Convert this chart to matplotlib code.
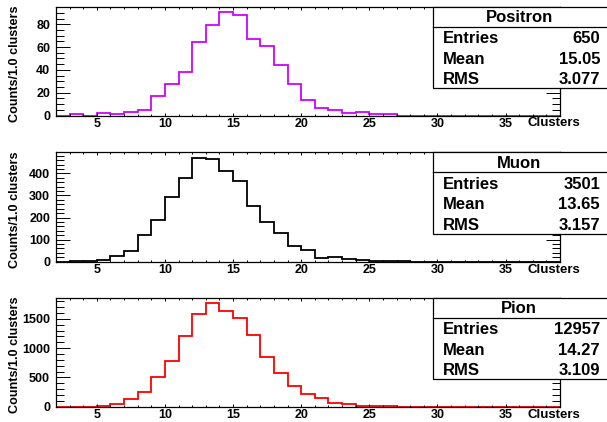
import numpy as np
import matplotlib
matplotlib.use("Agg")
import matplotlib.pyplot as plt
from matplotlib.patches import Rectangle
from matplotlib.lines import Line2D
from matplotlib.ticker import MultipleLocator

plt.rcParams['font.family'] = ['Liberation Sans', 'DejaVu Sans']
plt.rcParams['font.weight'] = 'bold'

# Cluster-count bins: [2,3), [3,4), ..., [38,39)
bin_edges = np.arange(2, 40, 1)

positron_counts = [0, 1, 0, 2, 1, 3, 5, 17, 28, 38, 64, 79, 91, 88, 67, 61, 44, 28,
                   14, 7, 5, 2, 3, 1, 1, 0, 0, 0, 0, 0, 0, 0, 0, 0, 0, 0, 0]
muon_counts = [0, 3, 4, 6, 25, 47, 121, 189, 291, 380, 472, 465, 412, 364, 251, 178,
               130, 71, 53, 15, 20, 10, 8, 4, 1, 1, 0, 0, 0, 0, 0, 0, 0, 0, 0, 0, 0]
pion_counts = [0, 1, 3, 10, 40, 125, 250, 515, 787, 1206, 1580, 1772, 1630, 1506,
               1229, 849, 583, 345, 221, 142, 68, 40, 17, 8, 4, 2, 1, 1, 0, 0, 0, 0,
               0, 0, 0, 0, 0]

particles = ["Positron", "Muon", "Pion"]
series = [positron_counts, muon_counts, pion_counts]
entries = ["650", "3501", "12957"]
means = ["15.05", "13.65", "14.27"]
rms = ["3.077", "3.157", "3.109"]
colors = ["#d000ff", "black", "#ff0000"]
y_major = [20, 100, 500]
y_minor = [5, 20, 100]

W, H = 607, 422
fig = plt.figure(figsize=(W / 100, H / 100), dpi=100)


def fx(px):
    return px / W


def fy(py):
    return 1 - py / H


# pixel layout of the three pads: (top, bottom)
pads = [(6.5, 115.5), (152.3, 261.7), (297.7, 406.7)]
ax_left, ax_right = 56, 560

for i, (top, bottom) in enumerate(pads):
    ax = fig.add_axes([fx(ax_left), fy(bottom), fx(ax_right - ax_left),
                       (bottom - top) / H])
    vals = np.array(series[i], dtype=float)
    ax.stairs(vals, bin_edges, color=colors[i], linewidth=1.3, baseline=None)
    ax.set_xlim(bin_edges[0], bin_edges[-1])
    ax.set_ylim(0, 1.05 * vals.max())

    ax.xaxis.set_major_locator(MultipleLocator(5))
    ax.xaxis.set_minor_locator(MultipleLocator(1))
    ax.yaxis.set_major_locator(MultipleLocator(y_major[i]))
    ax.yaxis.set_minor_locator(MultipleLocator(y_minor[i]))
    ax.tick_params(axis='x', which='major', direction='in', length=2.4, width=0.7,
                   top=True, bottom=True, pad=1.6, labelsize=9)
    ax.tick_params(axis='x', which='minor', direction='in', length=1.2, width=0.7,
                   top=True, bottom=True)
    ax.tick_params(axis='y', which='major', direction='in', length=10, width=0.7,
                   left=True, right=True, pad=4.3, labelsize=9)
    ax.tick_params(axis='y', which='minor', direction='in', length=5.8, width=0.7,
                   left=True, right=True)
    for lab in ax.get_xticklabels() + ax.get_yticklabels():
        lab.set_fontweight('bold')
    for sp in ax.spines.values():
        sp.set_linewidth(0.9)

    # axis titles
    fig.text(fx(580), fy(bottom + 11), "Clusters", ha='right', va='baseline',
             fontsize=9.5, fontweight='bold')
    fig.text(fx(15.5), fy((top + bottom) / 2 + 3), "Counts/1.0 clusters",
             rotation=90, ha='center', va='center', fontsize=9.1,
             fontweight='bold')

    # statistics box
    bx0, bx1 = 432.7, 607.5
    bh = 81.5
    fig.add_artist(Rectangle((fx(bx0), fy(top + bh)), fx(bx1 - bx0), bh / H,
                             transform=fig.transFigure, facecolor='white',
                             edgecolor='black', linewidth=0.9, zorder=5))
    fig.add_artist(Line2D([fx(bx0), fx(bx1)], [fy(top + 20), fy(top + 20)],
                          transform=fig.transFigure, color='black',
                          linewidth=0.9, zorder=6))
    fig.text(fx((bx0 + bx1) / 2 - 1), fy(top + 15.7), particles[i], ha='center',
             va='baseline', fontsize=12, fontweight='bold', zorder=7)
    rows = [("Entries", entries[i]), ("Mean", means[i]), ("RMS", rms[i])]
    for j, (name, val) in enumerate(rows):
        yb = top + 36.8 + 20.3 * j
        fig.text(fx(442.7), fy(yb), name, ha='left', va='baseline',
                 fontsize=12, fontweight='bold', zorder=7)
        fig.text(fx(600), fy(yb), val, ha='right', va='baseline',
                 fontsize=12, fontweight='bold', zorder=7)

fig.savefig("out.png", dpi=100)
